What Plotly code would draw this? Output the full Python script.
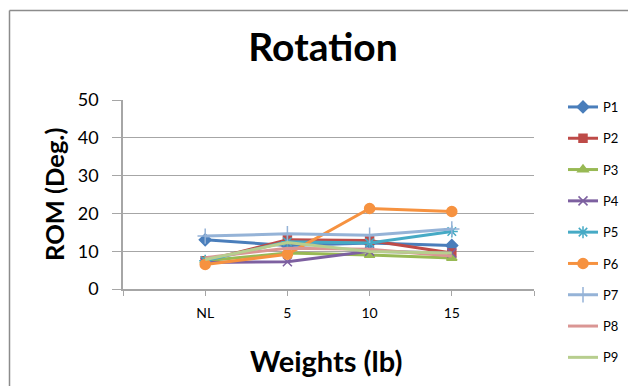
import plotly.graph_objects as go

# Category slots: an empty slot on each side, data sits on the tick marks
categories = ["NL", "5", "10", "15"]
slot_pos = [1, 2, 3, 4]
tick_pos = [0, 1, 2, 3, 4, 5]
tick_text = ["", "NL", "5", "10", "15", ""]

p1 = [13.0, 11.5, 12.2, 11.5]
p2 = [7.5, 13.0, 12.8, 9.5]
p3 = [7.5, 9.5, 9.0, 8.2]
p4 = [7.0, 7.2, 10.0, 9.5]
p5 = [7.5, 12.5, 12.2, 15.2]
p6 = [6.5, 9.2, 21.3, 20.5]
p7 = [14.0, 14.6, 14.2, 15.9]
p8 = [8.3, 10.8, 10.5, 8.7]
p9 = [7.8, 12.3, 9.9, 9.5]

series = [
    ("P1", p1, "#4A7EBB", "diamond", 9),
    ("P2", p2, "#BE4B48", "square", 8),
    ("P3", p3, "#98B954", "triangle-up", 9),
    ("P4", p4, "#7D60A0", "x-thin", 9),
    ("P5", p5, "#46AAC5", "asterisk-open", 10),
    ("P6", p6, "#F69240", "circle", 10),
    ("P7", p7, "#95B3D7", "cross-thin", 11),
    ("P8", p8, "#DA9694", None, 0),
    ("P9", p9, "#B7CE8E", None, 0),
]

W, H = 628, 386
ML, MR, MT, MB = 123, 94, 100, 97
PW, PH = W - ML - MR, H - MT - MB


def px_x(x):
    return (x - ML) / PW


def px_y(y):
    return (H - MB - y) / PH


FONT = "Lato, 'Open Sans', sans-serif"

fig = go.Figure()
for i, (name, vals, color, symbol, size) in enumerate(series):
    if symbol:
        marker = dict(symbol=symbol, size=size, color=color,
                      line=dict(color=color, width=1.5))
        mode = "lines+markers"
    else:
        marker = None
        mode = "lines"
    fig.add_trace(go.Scatter(
        x=slot_pos, y=vals, name=name, mode=mode,
        line=dict(color=color, width=3),
        marker=marker, legendgroup=name,
    ))

# Chart frame (top and left edges visible)
frame = dict(color="#8c8c8c", width=1.5)
fig.add_shape(type="line", xref="paper", yref="paper",
              x0=px_x(9.5), x1=px_x(W + 5), y0=px_y(10.5), y1=px_y(10.5), line=frame)
fig.add_shape(type="line", xref="paper", yref="paper",
              x0=px_x(9.5), x1=px_x(9.5), y0=px_y(10.5), y1=px_y(H + 5), line=frame)

# Axis titles placed as annotations
fig.add_annotation(text="<b>Weights (lb)</b>", xref="paper", yref="paper",
                   x=px_x(326), y=px_y(360), xanchor="center", yanchor="middle",
                   showarrow=False, font=dict(size=29, family=FONT))
fig.add_annotation(text="<b>ROM (Deg.)</b>", xref="paper", yref="paper",
                   x=px_x(54), y=px_y(195), xanchor="center", yanchor="middle",
                   textangle=-90, showarrow=False,
                   font=dict(size=25.5, family=FONT))

fig.update_layout(
    width=W, height=H,
    margin=dict(l=ML, r=MR, t=MT, b=MB, autoexpand=False),
    paper_bgcolor="white", plot_bgcolor="white",
    font=dict(family=FONT, color="#000000"),
    title=dict(text="<b>Rotation</b>", xref="container", x=323 / W,
               xanchor="center", yref="container", y=1 - 47 / H,
               yanchor="middle", font=dict(size=39, family=FONT)),
    showlegend=True,
    legend=dict(x=px_x(563), xanchor="left", yref="container",
                y=1 - 92 / H, yanchor="top", maxheight=330,
                font=dict(size=13, family=FONT), tracegroupgap=11.4,
                bgcolor="rgba(0,0,0,0)", itemwidth=30),
    xaxis=dict(range=[0, 5], tickvals=tick_pos, ticktext=tick_text,
               automargin=False,
               showgrid=False, zeroline=False, showline=True,
               linecolor="#a6a6a6", linewidth=1.5,
               ticks="outside", ticklen=5, tickcolor="#a6a6a6",
               ticklabelstandoff=5,
               tickfont=dict(size=14, family=FONT)),
    yaxis=dict(range=[0, 50], dtick=10, automargin=False,
               showgrid=True, gridcolor="#a6a6a6", gridwidth=1.2,
               zeroline=False, showline=True,
               linecolor="#a6a6a6", linewidth=1.5,
               ticks="outside", ticklen=9, tickcolor="#a6a6a6",
               ticklabelstandoff=10,
               tickfont=dict(size=18, family=FONT)),
)

fig.write_html("out.html")
